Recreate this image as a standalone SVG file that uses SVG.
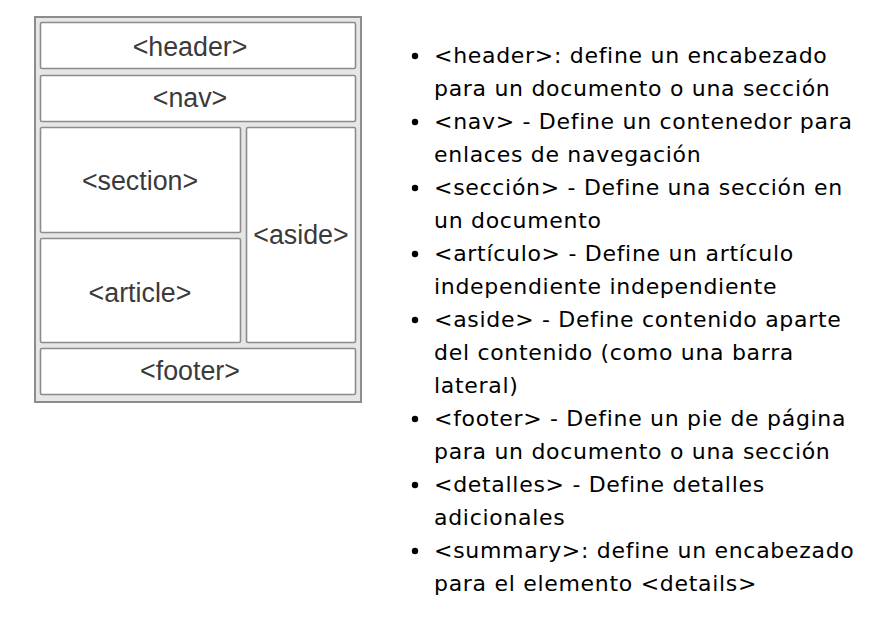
<svg xmlns="http://www.w3.org/2000/svg" width="881" height="632" viewBox="0 0 881 632">
<style>
.outer{fill:#e6e6e6;stroke:#8c8c8c;stroke-width:2}
.box{fill:#fff;stroke:#8c8c8c;stroke-width:1.6}
.lbl{font-family:"Liberation Sans",Arial,sans-serif;font-size:26.8px;fill:#3a3a3a;text-anchor:middle}
.li{font-family:"DejaVu Sans",Verdana,sans-serif;font-size:22px;fill:#000;letter-spacing:0.7px}
.dot{fill:#000}
</style>
<rect width="881" height="632" fill="#fff"/>
<g id="layout">
<rect class="outer" x="35" y="17" width="326" height="385"/>
</g>
<g id="header"><rect class="box" x="40.5" y="22.5" width="315" height="46" rx="1.5"/><text class="lbl" x="190" y="56">&lt;header&gt;</text></g>
<g id="nav"><rect class="box" x="40.5" y="75.5" width="315" height="46" rx="1.5"/><text class="lbl" x="190" y="107">&lt;nav&gt;</text></g>
<g id="section"><rect class="box" x="40.5" y="127.5" width="200" height="105" rx="1.5"/><text class="lbl" x="140" y="190">&lt;section&gt;</text></g>
<g id="article"><rect class="box" x="40.5" y="238.5" width="200" height="104" rx="1.5"/><text class="lbl" x="140" y="302">&lt;article&gt;</text></g>
<g id="aside"><rect class="box" x="246.5" y="127.5" width="109" height="215" rx="1.5"/><text class="lbl" x="301" y="244">&lt;aside&gt;</text></g>
<g id="footer"><rect class="box" x="40.5" y="348.5" width="315" height="46" rx="1.5"/><text class="lbl" x="190" y="380">&lt;footer&gt;</text></g>
<g id="connectors"></g>
<g id="list">
<circle class="dot" cx="415" cy="56" r="3.2"/>
<circle class="dot" cx="415" cy="122" r="3.2"/>
<circle class="dot" cx="415" cy="188" r="3.2"/>
<circle class="dot" cx="415" cy="254" r="3.2"/>
<circle class="dot" cx="415" cy="320" r="3.2"/>
<circle class="dot" cx="415" cy="419" r="3.2"/>
<circle class="dot" cx="415" cy="485" r="3.2"/>
<circle class="dot" cx="415" cy="551" r="3.2"/>
<text class="li" x="434" y="63">&lt;header&gt;: define un encabezado</text>
<text class="li" x="434" y="96">para un documento o una sección</text>
<text class="li" x="434" y="129">&lt;nav&gt; - Define un contenedor para</text>
<text class="li" x="434" y="162">enlaces de navegación</text>
<text class="li" x="434" y="195">&lt;sección&gt; - Define una sección en</text>
<text class="li" x="434" y="228">un documento</text>
<text class="li" x="434" y="261">&lt;artículo&gt; - Define un artículo</text>
<text class="li" x="434" y="294">independiente independiente</text>
<text class="li" x="434" y="327">&lt;aside&gt; - Define contenido aparte</text>
<text class="li" x="434" y="360">del contenido (como una barra</text>
<text class="li" x="434" y="393">lateral)</text>
<text class="li" x="434" y="426">&lt;footer&gt; - Define un pie de página</text>
<text class="li" x="434" y="459">para un documento o una sección</text>
<text class="li" x="434" y="492">&lt;detalles&gt; - Define detalles</text>
<text class="li" x="434" y="525">adicionales</text>
<text class="li" x="434" y="558">&lt;summary&gt;: define un encabezado</text>
<text class="li" x="434" y="591">para el elemento &lt;details&gt;</text>
</g>
</svg>
